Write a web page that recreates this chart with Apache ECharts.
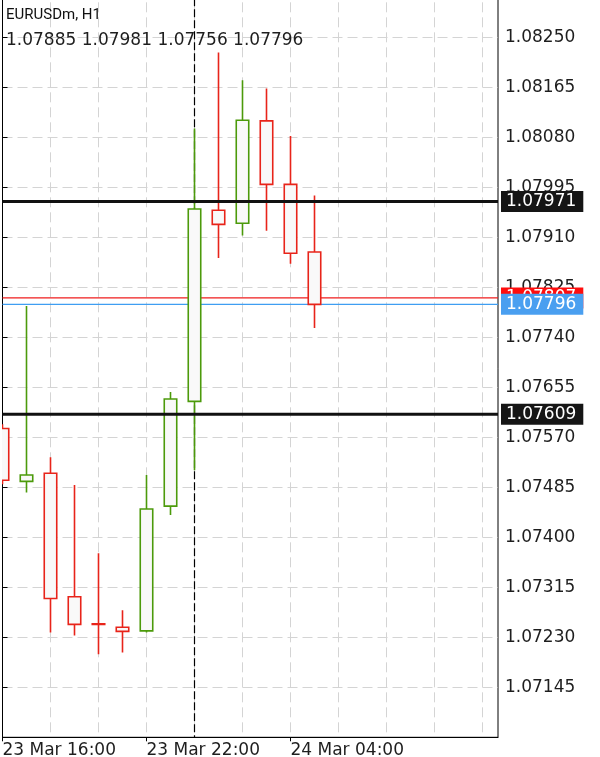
<!DOCTYPE html>
<html>
<head>
<meta charset="utf-8">
<script src="https://cdn.jsdelivr.net/npm/echarts@6/dist/echarts.min.js"></script>
<style>
  html, body { margin: 0; padding: 0; background: #ffffff; }
  #chart { width: 600px; height: 757px; }
</style>
</head>
<body>
<div id="chart"></div>
<script>
// EURUSDm hourly candles, 23 Mar 16:00 .. 24 Mar 05:00
const symbolName = 'EURUSDm, H1';
const hours = [
  '23 Mar 16:00', '23 Mar 17:00', '23 Mar 18:00', '23 Mar 19:00', '23 Mar 20:00',
  '23 Mar 21:00', '23 Mar 22:00', '23 Mar 23:00', '24 Mar 00:00', '24 Mar 01:00',
  '24 Mar 02:00', '24 Mar 03:00', '24 Mar 04:00', '24 Mar 05:00'
];
const opens  = [1.07585, 1.07495, 1.07509, 1.07299, 1.07253, 1.07247, 1.07241, 1.07453, 1.07631, 1.07956, 1.07934, 1.08108, 1.08000, 1.07885];
const highs  = [1.07592, 1.07793, 1.07536, 1.07489, 1.07373, 1.07276, 1.07506, 1.07647, 1.08095, 1.08224, 1.08177, 1.08163, 1.08082, 1.07981];
const lows   = [1.07490, 1.07476, 1.07238, 1.07233, 1.07201, 1.07204, 1.07238, 1.07438, 1.07514, 1.07875, 1.07913, 1.07921, 1.07865, 1.07756];
const closes = [1.07497, 1.07506, 1.07296, 1.07252, 1.07252, 1.07240, 1.07448, 1.07635, 1.07958, 1.07932, 1.08109, 1.08000, 1.07883, 1.07796];

// live prices (under the candles) and support / resistance levels (over them)
const priceLines = [1.07807, 1.07796];          // ask, bid
const priceLineColors = ['#ef1c1c', '#3f9ef2'];
const priceTagColors = ['#ff0d0d', '#4a9ff0'];
const levelLines = [1.07971, 1.07609];          // resistance, support

// price scale: step between grid lines and visible range
const priceStep = 0.00085;
const priceMin = 1.07060;
const priceMax = 1.08335;

// time scale: labelled bars and number of bar slots across the plot
const timeLabelBars = [0, 6, 12];
const daySeparatorBar = hours.indexOf('24 Mar 00:00');
const visibleBars = 20.646;

const upColor = '#4c9a0b';
const downColor = '#e8241a';
const bodyFill = '#f9f9f9';
const numFont = 'DejaVu Sans';
const tagFont = '17px "DejaVu Sans"';

const candleData = hours.map((h, i) => [i, opens[i], closes[i], lows[i], highs[i]]);
const last = hours.length - 1;
const ohlcText = [opens[last], highs[last], lows[last], closes[last]].map(v => v.toFixed(5)).join(' ');

function renderCandle(params, api) {
  const i = api.value(0);
  const o = api.value(1), c = api.value(2), l = api.value(3), h = api.value(4);
  const pO = api.coord([i, o]);
  const pC = api.coord([i, c]);
  const pL = api.coord([i, l]);
  const pH = api.coord([i, h]);
  const w = api.size([1, 0])[0] * 0.52;
  const color = c >= o ? upColor : downColor;
  const top = Math.min(pO[1], pC[1]);
  const bot = Math.max(pO[1], pC[1]);
  return {
    type: 'group',
    children: [
      { type: 'line', shape: { x1: pH[0], y1: pH[1], x2: pL[0], y2: pL[1] },
        style: { stroke: color, lineWidth: 1.6 } },
      { type: 'rect', shape: { x: pO[0] - w / 2, y: top, width: w, height: Math.max(bot - top, 0.4) },
        style: { fill: bodyFill, stroke: color, lineWidth: 1.6 } }
    ]
  };
}

// a horizontal line across the plot with a price tag on the price scale
function horizontalLine(lineColor, lineWidth, tagColor) {
  return function (params, api) {
    const cs = params.coordSys;
    const v = api.value(0);
    const y = api.coord([0, v])[1];
    const lc = typeof lineColor === 'function' ? lineColor(params.dataIndex) : lineColor;
    const tc = typeof tagColor === 'function' ? tagColor(params.dataIndex) : tagColor;
    return {
      type: 'group',
      children: [
        { type: 'line', shape: { x1: cs.x, y1: y, x2: cs.x + cs.width, y2: y },
          style: { stroke: lc, lineWidth: lineWidth } },
        { type: 'text', x: cs.x + cs.width + 3, y: y,
          style: {
            text: v.toFixed(5), font: tagFont, fill: '#ffffff',
            align: 'left', verticalAlign: 'middle',
            backgroundColor: tc, padding: [2, 7, 2, 5], lineHeight: 17
          } }
      ]
    };
  };
}

function renderSeparator(params, api) {
  const cs = params.coordSys;
  const x = api.coord([api.value(0), priceMin])[0];
  return {
    type: 'line',
    shape: { x1: x, y1: cs.y, x2: x, y2: cs.y + cs.height },
    style: { stroke: '#000000', lineWidth: 1.2, lineDash: [8, 3] }
  };
}

const chart = echarts.init(document.getElementById('chart'), null, { renderer: 'canvas' });

chart.setOption({
  animation: false,
  backgroundColor: '#ffffff',
  title: [
    { text: symbolName, left: 6, top: 8, padding: 0,
      textStyle: { fontFamily: 'Roboto', fontSize: 15, fontWeight: 'normal', color: '#111111' } },
    { text: ohlcText, left: 6, top: 32, padding: 0,
      textStyle: { fontFamily: numFont, fontSize: 17, fontWeight: 'normal', color: '#1e1e1e' } }
  ],
  grid: {
    left: 2.5, right: 102, top: -12.7, bottom: 19.7,
    outerBoundsMode: 'none', containLabel: false,
    show: true, borderColor: '#000000', borderWidth: 1, backgroundColor: 'transparent'
  },
  xAxis: [
    {
      type: 'value', min: 0, max: visibleBars, position: 'bottom',
      axisLine: { show: true, lineStyle: { color: '#000000', width: 1 } },
      axisTick: { show: true, customValues: timeLabelBars, length: 4, lineStyle: { color: '#000000' } },
      axisLabel: {
        show: true, customValues: timeLabelBars, formatter: v => hours[v] || '',
        align: 'left', margin: 5, fontFamily: numFont, fontSize: 17, color: '#1e1e1e'
      },
      splitLine: { show: false }
    },
    {
      type: 'value', min: 0, max: visibleBars, interval: 2, position: 'top',
      axisLine: { show: false }, axisTick: { show: false }, axisLabel: { show: false },
      splitLine: {
        show: true, showMinLine: false, showMaxLine: false,
        lineStyle: { color: '#d4d4d4', width: 1, type: [10, 5] }
      }
    }
  ],
  yAxis: {
    type: 'value', position: 'right', min: priceMin, max: priceMax, interval: priceStep,
    axisLine: { show: true, lineStyle: { color: '#000000', width: 1 } },
    axisTick: { show: true, length: 5, lineStyle: { color: '#000000' } },
    axisLabel: {
      margin: 7, formatter: v => v.toFixed(5), fontFamily: numFont, fontSize: 17,
      color: '#1e1e1e', showMinLabel: false, showMaxLabel: false
    },
    splitLine: {
      show: true, showMinLine: false, showMaxLine: false,
      lineStyle: { color: '#d4d4d4', width: 1, type: [10, 5] }
    }
  },
  series: [
    {
      type: 'custom', name: 'day separator', z: 1, silent: true, clip: true,
      renderItem: renderSeparator,
      encode: { x: 0 },
      data: [[daySeparatorBar]]
    },
    {
      type: 'custom', name: 'price lines', z: 1, silent: true, clip: false,
      renderItem: horizontalLine(i => priceLineColors[i], 1.3, i => priceTagColors[i]),
      encode: { y: 0 },
      data: priceLines.map(v => [v])
    },
    {
      type: 'custom', name: symbolName, z: 2, clip: true,
      renderItem: renderCandle,
      encode: { x: 0, y: [1, 2, 3, 4] },
      data: candleData
    },
    {
      type: 'custom', name: 'levels', z: 3, silent: true, clip: false,
      renderItem: horizontalLine('#111111', 3, '#151515'),
      encode: { y: 0 },
      data: levelLines.map(v => [v])
    }
  ]
});
</script>
</body>
</html>
